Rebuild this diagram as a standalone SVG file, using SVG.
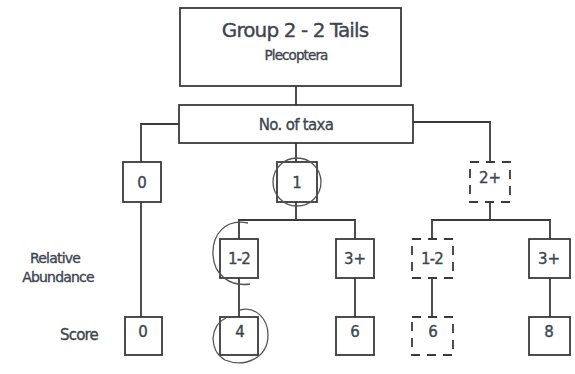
<svg xmlns="http://www.w3.org/2000/svg" width="575" height="374" viewBox="0 0 575 374">
<style>
.box{fill:#fff;stroke:#3a3a3a;stroke-width:1.8}
.dash{fill:#fff;stroke:#3a3a3a;stroke-width:1.8;stroke-dasharray:9 7}
.ln{fill:none;stroke:#3a3a3a;stroke-width:1.8}
.hand{fill:none;stroke:#555;stroke-width:1.3}
text{font-family:"DejaVu Sans",Verdana,sans-serif;fill:#3c4550;text-anchor:middle;stroke:#3c4550;stroke-width:0.35}
.n{font-size:15px}
.lab{font-size:14px;letter-spacing:-0.8px}
</style>
<rect width="575" height="374" fill="#fff"/>
<g id="connectors">
<path class="ln" d="M296 86V105"/>
<path class="ln" d="M179 124H141V162"/>
<path class="ln" d="M296 143V162"/>
<path class="ln" d="M413 122H490V162"/>
<path class="ln" d="M296 202V220M239 239V220H355V239"/>
<path class="ln" d="M490 202V220M432 239V220H550V239"/>
<path class="ln" d="M141 202V317"/>
<path class="ln" d="M239 278V317"/>
<path class="ln" d="M355 278V317"/>
<path class="ln" d="M432 278V317"/>
<path class="ln" d="M550 278V317"/>
</g>
<g id="title">
<rect class="box" x="180" y="8" width="221" height="78"/>
<text x="295" y="37" style="font-size:20px;letter-spacing:-0.9px">Group 2 - 2 Tails</text>
<text x="296" y="60" style="font-size:13.5px;letter-spacing:-0.9px">Plecoptera</text>
</g>
<g id="taxa">
<rect class="box" x="179" y="105" width="234" height="38"/>
<text x="296" y="130" style="font-size:15px;letter-spacing:-0.7px">No. of taxa</text>
</g>
<g id="t0"><rect class="box" x="123" y="162" width="38" height="40"/><text x="142" y="188" class="n">0</text></g>
<g id="t1"><rect class="box" x="277" y="162" width="40" height="40"/><text x="297" y="188" class="n">1</text></g>
<g id="t2"><rect class="dash" x="470" y="162" width="40" height="40"/><text x="490" y="183" class="n">2+</text></g>
<g id="r1"><rect class="box" x="220" y="239" width="38" height="39"/><text x="239" y="264" class="n" style="letter-spacing:-0.8px">1-2</text></g>
<g id="r2"><rect class="box" x="336" y="239" width="38" height="39"/><text x="355" y="264" class="n">3+</text></g>
<g id="r3"><rect class="dash" x="412" y="239" width="41" height="39"/><text x="432" y="264" class="n" style="letter-spacing:-0.8px">1-2</text></g>
<g id="r4"><rect class="box" x="529" y="239" width="41" height="39"/><text x="549" y="264" class="n">3+</text></g>
<g id="s0"><rect class="box" x="125" y="317" width="37" height="38"/><text x="143" y="337" class="n">0</text></g>
<g id="s1"><rect class="box" x="220" y="317" width="38" height="38"/><text x="240" y="337" class="n">4</text></g>
<g id="s2"><rect class="box" x="336" y="317" width="38" height="38"/><text x="355" y="337" class="n">6</text></g>
<g id="s3"><rect class="dash" x="412" y="317" width="41" height="38"/><text x="433" y="337" class="n">6</text></g>
<g id="s4"><rect class="box" x="529" y="317" width="41" height="38"/><text x="549" y="337" class="n">8</text></g>
<g id="labels">
<text x="55" y="263" class="lab">Relative</text>
<text x="58" y="282" class="lab">Abundance</text>
<text x="79" y="340" class="lab" style="font-size:15px">Score</text>
</g>
<g id="annotations">
<circle class="hand" cx="297" cy="182" r="24"/>
<path class="hand" d="M248 223C225 218 212 235 213 255C214 275 230 287 250 284"/>
<path class="hand" d="M226 318C210 325 208 350 225 360C245 368 268 358 268 335C268 318 255 306 240 310"/>
</g>
</svg>
